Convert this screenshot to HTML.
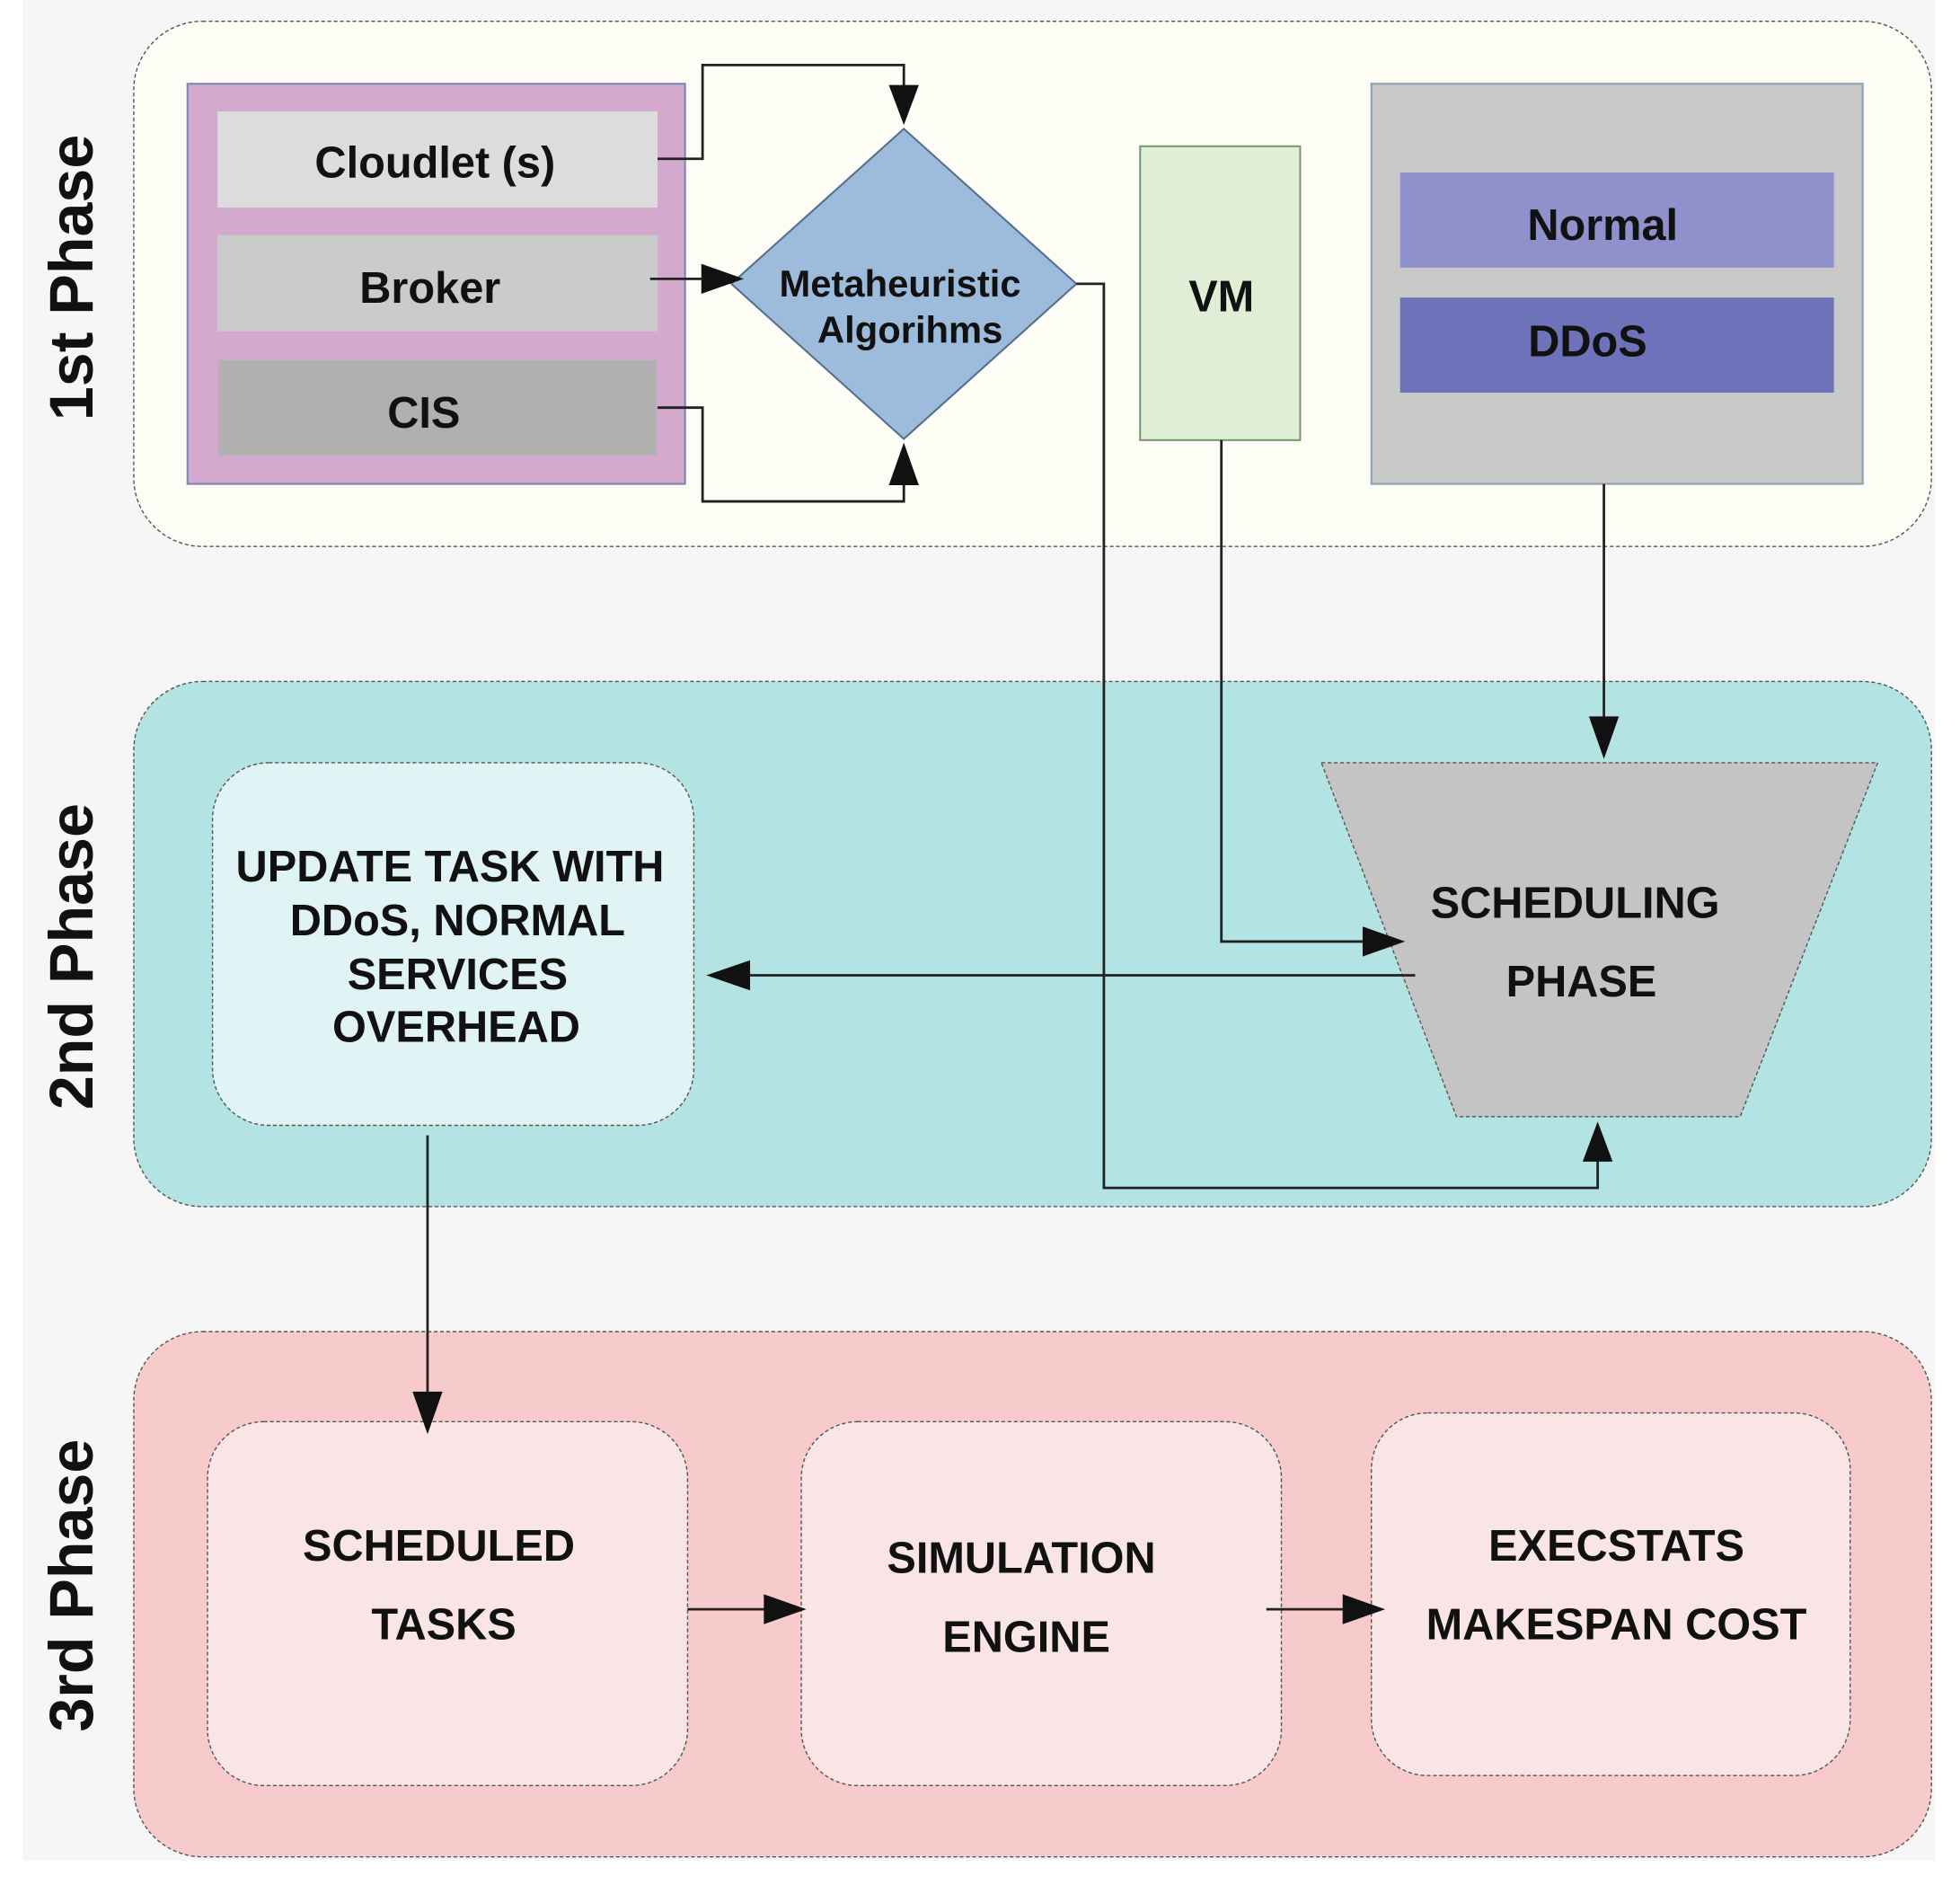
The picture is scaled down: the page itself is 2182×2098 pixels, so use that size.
<!DOCTYPE html>
<html><head><meta charset="utf-8"><style>html,body{margin:0;padding:0;background:#fff}svg{display:block}text{font-family:"Liberation Sans",sans-serif;fill:#111}</style></head>
<body>
<svg width="2182" height="2098" viewBox="0 0 1560 1500" preserveAspectRatio="none" xmlns="http://www.w3.org/2000/svg">
<g transform="scale(0.995)">
<rect x="18" y="0" width="1530" height="1488" fill="#f6f6f6"/>
<!-- Phase 1 -->
<rect x="107" y="17" width="1438" height="420" rx="55" fill="#fdfcf5" stroke="#555" stroke-dasharray="3,2" stroke-width="1"/>
<rect x="150" y="67" width="398" height="320" fill="#d3a9cd" stroke="#7a86b4" stroke-width="1.5"/>
<rect x="174" y="89" width="352" height="77" fill="#dcdcdc"/>
<rect x="174" y="188" width="352" height="77" fill="#cbcbcb"/>
<rect x="175" y="288" width="350" height="76" fill="#b0b0b0"/>
<g font-weight="bold" font-size="35" text-anchor="middle">
<text x="348" y="142">Cloudlet (s)</text>
<text x="344" y="242">Broker</text>
<text x="339" y="342">CIS</text>
</g>
<polygon points="723,103 861,227 723,351 585,227" fill="#9dbcdc" stroke="#55708e" stroke-width="1.5"/>
<g font-weight="bold" font-size="30" text-anchor="middle"><text x="720" y="237">Metaheuristic</text><text x="728" y="274">Algorihms</text></g>
<rect x="912" y="117" width="128" height="235" fill="#e0eed6" stroke="#7a9a70" stroke-width="1.5"/>
<text x="977" y="249" font-weight="bold" font-size="35" text-anchor="middle">VM</text>
<rect x="1097" y="67" width="393" height="320" fill="#c8c8c8" stroke="#8aa0b0" stroke-width="1.5"/>
<rect x="1120" y="138" width="347" height="76" fill="#8e91cb"/>
<rect x="1120" y="238" width="347" height="76" fill="#6e72b8"/>
<g font-weight="bold" font-size="35" text-anchor="middle"><text x="1282" y="192">Normal</text><text x="1270" y="285">DDoS</text></g>
<!-- Phase 2 -->
<rect x="107" y="545" width="1438" height="420" rx="55" fill="#b4e3e3" stroke="#555" stroke-dasharray="3,2" stroke-width="1"/>
<rect x="170" y="610" width="385" height="290" rx="45" fill="#e0f4f5" stroke="#555" stroke-dasharray="3,2" stroke-width="1"/>
<g font-weight="bold" font-size="35" text-anchor="middle">
<text x="360" y="705">UPDATE TASK WITH</text><text x="366" y="748">DDoS, NORMAL</text><text x="366" y="791">SERVICES</text><text x="365" y="833">OVERHEAD</text></g>
<polygon points="1057,610 1502,610 1392,893 1165,893" fill="#c4c4c4" stroke="#555" stroke-dasharray="3,2" stroke-width="1"/>
<g font-weight="bold" font-size="35" text-anchor="middle"><text x="1260" y="734">SCHEDULING</text><text x="1265" y="797">PHASE</text></g>
<!-- Phase 3 -->
<rect x="107" y="1065" width="1438" height="420" rx="55" fill="#f7cbcb" stroke="#555" stroke-dasharray="3,2" stroke-width="1"/>
<g fill="#fae5e6" stroke="#555" stroke-dasharray="3,2" stroke-width="1">
<rect x="166" y="1137" width="384" height="291" rx="45"/>
<rect x="641" y="1137" width="384" height="291" rx="45"/>
<rect x="1097" y="1130" width="383" height="290" rx="45"/></g>
<g font-weight="bold" font-size="35" text-anchor="middle">
<text x="351" y="1248">SCHEDULED</text><text x="355" y="1311">TASKS</text>
<text x="817" y="1258">SIMULATION</text><text x="821" y="1321">ENGINE</text>
<text x="1293" y="1248">EXECSTATS</text><text x="1293" y="1311">MAKESPAN COST</text></g>
<!-- phase labels -->
<g font-weight="bold" font-size="49" text-anchor="middle">
<text transform="translate(74,222) rotate(-90)">1st Phase</text>
<text transform="translate(74,765) rotate(-90)">2nd Phase</text>
<text transform="translate(74,1268) rotate(-90)">3rd Phase</text></g>
<!-- connectors -->
<g fill="none" stroke="#222" stroke-width="2">
<polyline points="526,127 562,127 562,52 723,52 723,80"/>
<polyline points="520,223 568,223"/>
<polyline points="526,326 562,326 562,401 723,401 723,375"/>
<polyline points="861,227 883,227 883,950 1278,950 1278,918"/>
<polyline points="977,352 977,753 1100,753"/>
<polyline points="1283,387 1283,585"/>
<polyline points="1132,780 588,780"/>
<polyline points="342,908 342,1125"/>
<polyline points="550,1287 622,1287"/>
<polyline points="1013,1287 1086,1287"/></g>
<g fill="#111">
<polygon points="723,100 711,68 735,68"/>
<polygon points="595,223 561,211 561,235"/>
<polygon points="723,354 711,388 735,388"/>
<polygon points="1278,897 1266,929 1290,929"/>
<polygon points="1124,753 1090,741 1090,765"/>
<polygon points="1283,607 1271,573 1295,573"/>
<polygon points="565,780 600,768 600,792"/>
<polygon points="342,1147 330,1113 354,1113"/>
<polygon points="645,1287 611,1275 611,1299"/>
<polygon points="1108,1287 1074,1275 1074,1299"/></g>
</g>
</svg>
</body></html>
